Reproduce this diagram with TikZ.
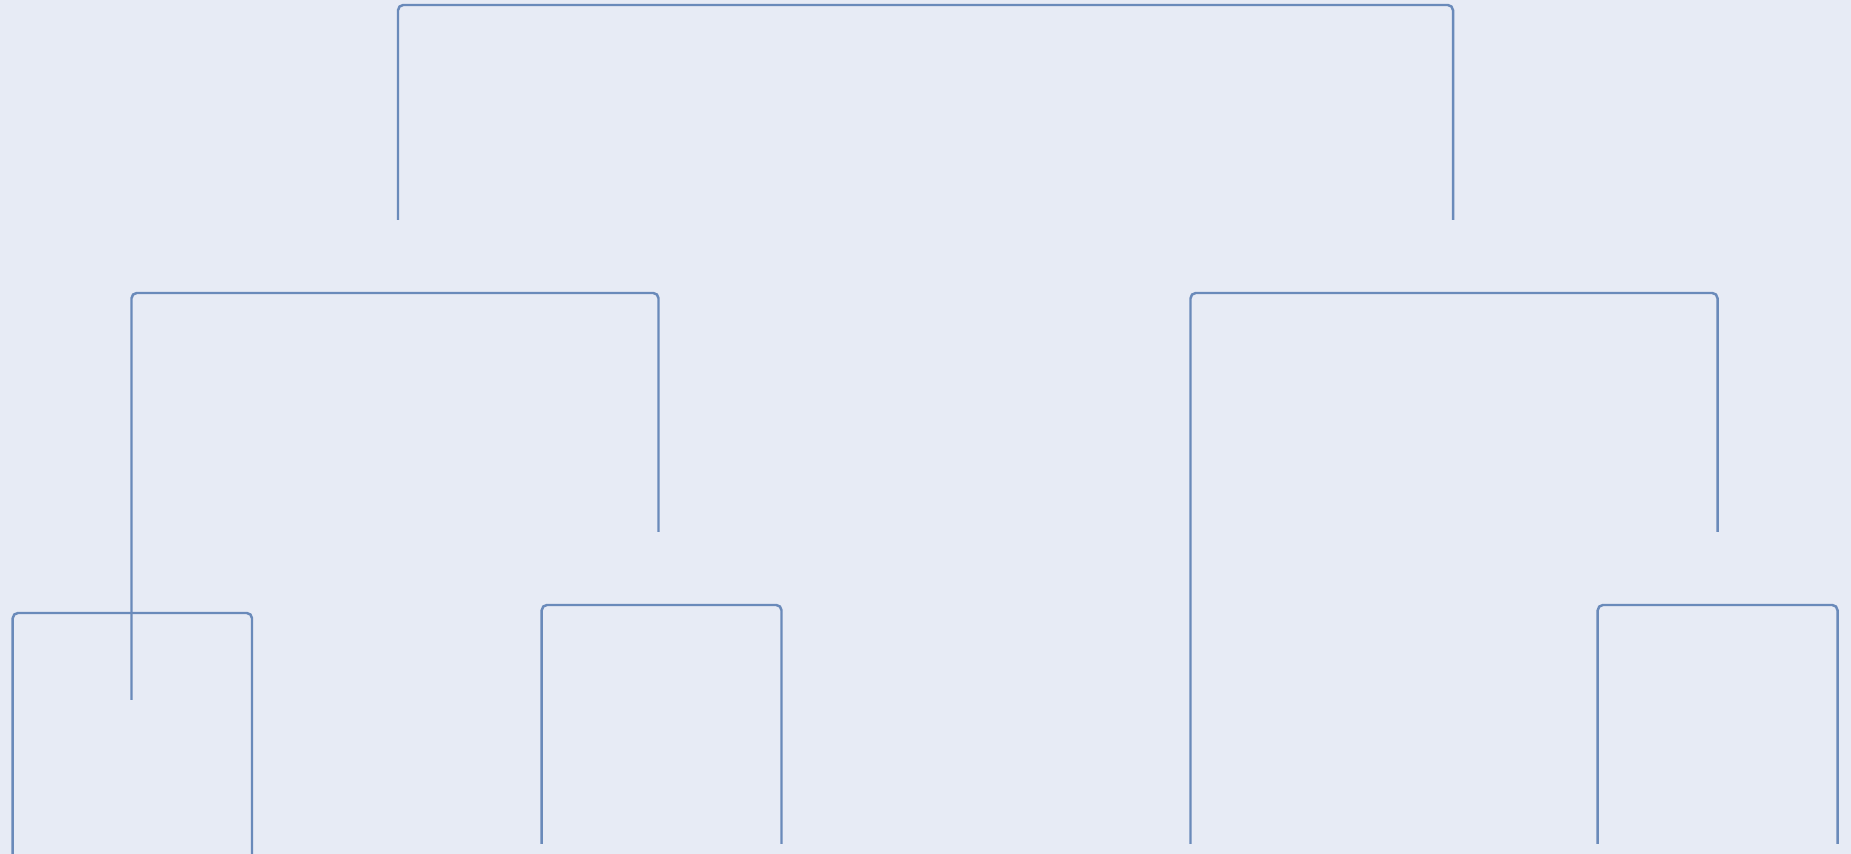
\documentclass[tikz,border=0pt]{standalone}
\usepackage{xcolor}
\usepackage{tikz}

\definecolor{plotbg}{RGB}{231,235,245}
\definecolor{linkblue}{RGB}{106,138,186}
\tikzset{link/.style={draw=linkblue,line width=1.4pt,rounded corners=3pt}}

\begin{document}
\begin{tikzpicture}[x=0.02cm,y=0.02cm]
            \useasboundingbox (0,0) rectangle (1851,854);
            \fill[plotbg] (0,0) rectangle (1851,854);
            % leaves
            \coordinate (p1) at (12.7,0);
            \coordinate (p2) at (252,0);
            \coordinate (q1) at (541.7,10);
            \coordinate (q2) at (781.5,10);
            \coordinate (r1) at (1190.5,10);
            \coordinate (s1) at (1597.7,10);
            \coordinate (s2) at (1837.5,10);
            % inner branch ends
            \coordinate (m1) at (131.5,154);
            \coordinate (m2) at (658.5,322);
            \coordinate (m3) at (1717.5,322);
            \coordinate (t1) at (398,634);
            \coordinate (t2) at (1453,634);
            % bar centres
            \coordinate (bp) at (132.4,241);
            \coordinate (bq) at (661.6,249);
            \coordinate (bs) at (1717.6,249);
            \coordinate (bl) at (395,561);
            \coordinate (br) at (1454,561);
            \coordinate (bt) at (925.5,849);
            % links
            \draw[link] (p1) |- (bp) -| (p2);
            \draw[link] (q1) |- (bq) -| (q2);
            \draw[link] (s1) |- (bs) -| (s2);
            \draw[link] (m1) |- (bl) -| (m2);
            \draw[link] (r1) |- (br) -| (m3);
            \draw[link] (t1) |- (bt) -| (t2);
        \end{tikzpicture}
\end{document}
